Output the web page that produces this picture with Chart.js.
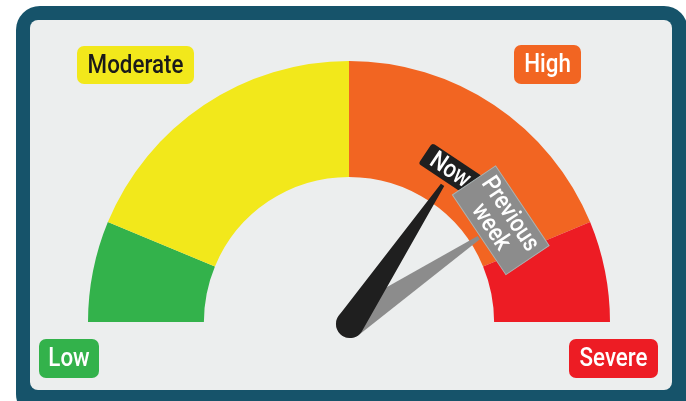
<!doctype html>
<html><head>
<script src="https://cdn.jsdelivr.net/npm/chart.js"></script>
<style>
html, body { margin: 0; padding: 0; background: #fff; }
canvas { display: block; }
</style>
</head>
<body>
<canvas id="gauge" width="686" height="401"></canvas>
<script>
// zones of the gauge (share of the half circle, 0-100)
var zoneLabels = ['Low', 'Moderate', 'High', 'Severe'];
var zoneValues = [12.5, 37.5, 37.5, 12.5];
var zoneColors = ['#33b24b', '#f2e81b', '#f26522', '#ed1c24'];
var zoneTextColors = ['#ffffff', '#1a1a1a', '#ffffff', '#ffffff'];

// needles
var needleLabels = [['Now'], ['Previous', 'week']];
var needleValues = [68.7, 81.2];
var needleColors = ['#1f1f1f', '#8c8c8c'];

// where the zone tags sit: x, y, w, h
var tagBoxes = [[39, 339, 60, 39], [77, 46, 117, 38], [514, 45, 67, 39], [569, 339, 89, 39]];

function roundRect(ctx, x, y, w, h, r) {
    ctx.beginPath();
    ctx.moveTo(x + r, y);
    ctx.arcTo(x + w, y, x + w, y + h, r);
    ctx.arcTo(x + w, y + h, x, y + h, r);
    ctx.arcTo(x, y + h, x, y, r);
    ctx.arcTo(x, y, x + w, y, r);
    ctx.closePath();
}

function narrowText(ctx, text, x, y, size, weight, color) {
    ctx.save();
    ctx.translate(x, y);
    ctx.scale(0.86, 1);
    ctx.font = weight + ' ' + size + 'px Roboto';
    ctx.fillStyle = color;
    ctx.textAlign = 'center';
    ctx.textBaseline = 'middle';
    ctx.fillText(text, 0, 0);
    ctx.restore();
}

var framePlugin = {
    id: 'frame',
    beforeDraw: function(chart) {
        var ctx = chart.ctx;
        ctx.save();
        ctx.fillStyle = '#16536a';
        roundRect(ctx, 16, 6, 672, 412, 24);
        ctx.fill();
        ctx.fillStyle = '#eceeee';
        roundRect(ctx, 30, 20, 642, 370, 8);
        ctx.fill();
        ctx.restore();
    }
};

var needlePlugin = {
    id: 'needles',
    afterDatasetsDraw: function(chart) {
        var ctx = chart.ctx;
        var arc = chart.getDatasetMeta(0).data[0];
        var cx = arc.x + 1, cy = arc.y + 2;
        var total = zoneValues.reduce(function(a, b) { return a + b; }, 0);
        var outer = arc.outerRadius;

        // zone tags
        zoneLabels.forEach(function(lab, i) {
            var b = tagBoxes[i];
            ctx.fillStyle = zoneColors[i];
            roundRect(ctx, b[0], b[1], b[2], b[3], 7);
            ctx.fill();
            narrowText(ctx, lab, b[0] + b[2] / 2, b[1] + b[3] / 2 + 1, 26, '500', zoneTextColors[i]);
        });

        // draw the older needle first so "Now" sits on top
        for (var i = needleValues.length - 1; i >= 0; i--) {
            var a = -Math.PI + needleValues[i] / total * Math.PI;
            var ux = Math.cos(a), uy = Math.sin(a);
            var nx = -uy, ny = ux;
            var len = i === 0 ? outer * 0.64 : outer * 0.594;
            var baseW = 14;
            var tipW = 2;
            var tx = cx + ux * len, ty = cy + uy * len;
            ctx.fillStyle = needleColors[i];
            ctx.beginPath();
            ctx.moveTo(tx + nx * tipW, ty + ny * tipW);
            ctx.lineTo(cx + nx * baseW, cy + ny * baseW);
            ctx.arc(cx, cy, baseW, a + Math.PI / 2, a + Math.PI * 1.5, false);
            ctx.lineTo(tx - nx * tipW, ty - ny * tipW);
            ctx.closePath();
            ctx.fill();
        }

        // needle tags, tangent to the ring
        needleValues.forEach(function(v, i) {
            var a = -Math.PI + v / total * Math.PI;
            var r = outer * 0.70;
            var lx = arc.x + Math.cos(a) * r, ly = arc.y + Math.sin(a) * r;
            var lines = needleLabels[i];
            var w = i === 0 ? 60 : 96;
            var h = i === 0 ? 25 : 52;
            ctx.save();
            ctx.translate(lx, ly);
            ctx.rotate(a + Math.PI / 2);
            ctx.fillStyle = needleColors[i];
            if (i === 1) {
                ctx.fillRect(-w / 2, -h / 2, w, h);
                ctx.strokeStyle = '#a9b4b4';
                ctx.lineWidth = 1;
                ctx.strokeRect(-w / 2, -h / 2, w, h);
            } else {
                roundRect(ctx, -w / 2, -h / 2, w, h, 3);
                ctx.fill();
            }
            lines.forEach(function(t, k) {
                var y = (k - (lines.length - 1) / 2) * 23 + 1;
                narrowText(ctx, t, 0, y, 25, '500', '#ffffff');
            });
            ctx.restore();
        });
    }
};

var chart = new Chart(document.getElementById('gauge'), {
    type: 'doughnut',
    data: {
        labels: zoneLabels,
        datasets: [{
            data: zoneValues,
            backgroundColor: zoneColors,
            borderWidth: 0,
            hoverOffset: 0
        }]
    },
    options: {
        responsive: false,
        animation: false,
        rotation: -90,
        circumference: 180,
        cutout: '55.6%',
        layout: { padding: { left: 88, right: 76, top: 61, bottom: 79 } },
        plugins: { legend: { display: false }, tooltip: { enabled: false } }
    },
    plugins: [framePlugin, needlePlugin]
});
</script>
</body>
</html>
